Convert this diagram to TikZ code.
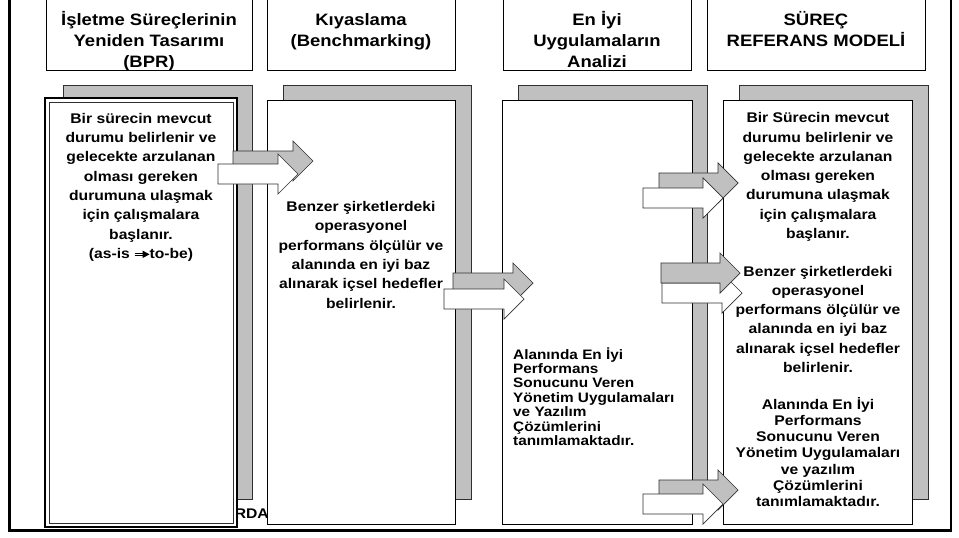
\documentclass[tikz,border=0pt]{standalone}
\usepackage{fontspec}
\setmainfont{Liberation Sans}[FakeStretch=1.12]
\definecolor{panelgray}{HTML}{C0C0C0}
\definecolor{edgegray}{HTML}{303030}

% block arrow: style, left x, shaft top y, shaft length
\newcommand\blockarrow[4]{%
  \draw[#1] (#2,#3) -- ++(#4,0) -- ++(0,-10) -- ++(20,20) -- ++(-20,20)
    -- ++(0,-10) -- ++(-#4,0) -- cycle;}

% small double-shaft arrow used inside text
\newcommand\asisarrow{\tikz[baseline=-0.55ex]{%
  \draw[line width=0.6pt] (0pt,1.3pt) -- (9pt,1.3pt) (0pt,-1.3pt) -- (9pt,-1.3pt);
  \fill (8pt,3.8pt) -- (15pt,0pt) -- (8pt,-3.8pt) -- cycle;}}

\begin{document}
% text nodes are placed by the baseline of their last line
\begin{tikzpicture}[x=1pt,y=-1pt,
  hbox/.style={draw=black, line width=0.8pt, fill=white},
  backbox/.style={draw=edgegray, line width=0.8pt, fill=panelgray},
  frontbox/.style={draw=black, line width=0.8pt, fill=white},
  htext/.style={font=\fontsize{16.5}{21.3}\selectfont\bfseries, align=center, anchor=base, inner sep=0pt},
  btext/.style={font=\fontsize{14}{19.3}\selectfont\bfseries, align=center, anchor=base, inner sep=0pt},
  ctext/.style={font=\fontsize{14}{16.3}\selectfont\bfseries, align=center, anchor=base, inner sep=0pt},
  ltext/.style={font=\fontsize{13.7}{14.4}\selectfont\bfseries, align=left, anchor=base west, inner sep=0pt},
  warrow/.style={draw=edgegray, line width=0.7pt, fill=white, line join=miter},
  garrow/.style={draw=edgegray, line width=0.7pt, fill=panelgray, line join=miter}]
\useasboundingbox (0,0) rectangle (959,538);

% outer frame
\draw[line width=3pt] (9.5,-5) -- (9.5,530) -- (952,530);
\draw[line width=1.2pt] (951,-5) -- (951,530);

% column headers
\draw[hbox] (46,-3) rectangle (252,70);
\draw[hbox] (267,-3) rectangle (455,70);
\draw[hbox] (503,-3) rectangle (691,70);
\draw[hbox] (707,-3) rectangle (925,70);
\node[htext] (h1) at (149,67.6) {İşletme Süreçlerinin\\Yeniden Tasarımı\\(BPR)};
\node[htext] (h2) at (361,46.3) {Kıyaslama\\(Benchmarking)};
\node[htext] (h3) at (597,67.6) {En İyi\\Uygulamaların\\Analizi};
\node[htext] (h4) at (816,46.3) {SÜREÇ\\REFERANS MODELİ};

% shadow panels
\draw[backbox] (63,85) rectangle (252,499);
\draw[backbox] (283,85) rectangle (471,499);
\draw[backbox] (518,85) rectangle (707,499);
\draw[backbox] (739,85) rectangle (928,499);

% text partly hidden behind the panels
\node[font=\fontsize{14}{16}\selectfont\bfseries, anchor=base east, inner sep=0pt] (tail) at (269,518) {RDA};

% front panels
\draw[frontbox, line width=1.1pt] (45,98) rectangle (237,527);
\draw[draw=edgegray, line width=0.7pt] (49,102) rectangle (233,523);
\draw[frontbox] (267,100) rectangle (455,524);
\draw[frontbox] (502,100) rectangle (692,524);
\draw[frontbox] (723,100) rectangle (912,524);

% panel texts
\node[btext] (t1) at (141,258.4) {Bir sürecin mevcut\\durumu belirlenir ve\\gelecekte arzulanan\\olması gereken\\durumuna ulaşmak\\için çalışmalara\\başlanır.\\(as-is \asisarrow to-be)};
\node[btext] (t2) at (361,308) {Benzer şirketlerdeki\\operasyonel\\performans ölçülür ve\\alanında en iyi baz\\alınarak içsel hedefler\\belirlenir.};
\node[ltext] (t3) at (513,445.4) {Alanında En İyi\\Performans\\Sonucunu Veren\\Yönetim Uygulamaları\\ve Yazılım\\Çözümlerini\\tanımlamaktadır.};
\node[btext] (t4a) at (818,238.5) {Bir Sürecin mevcut\\durumu belirlenir ve\\gelecekte arzulanan\\olması gereken\\durumuna ulaşmak\\için çalışmalara\\başlanır.};
\node[btext] (t4b) at (818,372.5) {Benzer şirketlerdeki\\operasyonel\\performans ölçülür ve\\alanında en iyi baz\\alınarak içsel hedefler\\belirlenir.};
\node[ctext] (t4c) at (818,506.8) {Alanında En İyi\\Performans\\Sonucunu Veren\\Yönetim Uygulamaları\\ve yazılım\\Çözümlerini\\tanımlamaktadır.};

% block arrows between the panels
\blockarrow{garrow}{233}{151}{60}
\blockarrow{warrow}{218}{164}{60}

\blockarrow{garrow}{453}{273}{60}
\blockarrow{warrow}{444}{289}{60}

\blockarrow{garrow}{659}{173}{59}
\blockarrow{warrow}{643}{188}{60}

\blockarrow{warrow}{662}{283}{60}
\blockarrow{garrow}{661}{263}{59}

\blockarrow{garrow}{659}{480}{59}
\blockarrow{warrow}{643}{494}{60}
\end{tikzpicture}
\end{document}
